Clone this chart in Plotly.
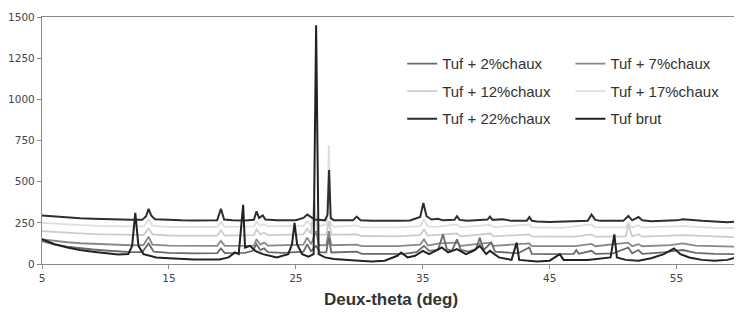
import plotly.graph_objects as go

# ---- data: (2-theta, intensity) ----
pts_22 = [(5,295),(5.5,292),(6,288),(7,284),(8,278),(9,275),(10,272),(11,270),(12,268),(12.9,268),(13.2,290),(13.4,335),(13.6,295),(13.9,272),(15,266),(16,265),(17,264),(18,264),(18.8,266),(19.1,335),(19.35,270),(20,265),(21,264),(21.7,268),(21.9,320),(22.1,280),(22.4,295),(22.6,270),(23.5,265),(25,266),(25.6,280),(25.9,300),(26.2,285),(26.5,270),(27.3,265),(27.5,300),(27.62,570),(27.75,280),(28,265),(29.5,265),(29.8,288),(30.1,266),(31,262),(32,260),(33,262),(34,264),(34.8,285),(35.05,370),(35.3,290),(35.7,270),(36.2,275),(36.6,265),(37.5,268),(37.7,290),(37.9,268),(38.5,262),(39.5,268),(40.1,270),(40.3,288),(40.5,268),(41.3,272),(42,262),(43.2,262),(43.4,285),(43.6,262),(44,258),(45,255),(46,258),(47,260),(48,262),(48.3,300),(48.6,268),(49,262),(50,260),(50.8,262),(51.2,292),(51.5,265),(52,285),(52.3,265),(53,260),(54,262),(55,265),(55.5,272),(56,268),(57,262),(58,258),(59,254),(60,258)]

pts_17 = [(5,250),(6,245),(7,240),(8,236),(9,233),(10,230),(11,228),(12,227),(13,228),(13.4,270),(13.7,232),(15,226),(17,225),(18.8,226),(19.1,255),(19.4,226),(21.7,228),(21.9,255),(22.2,232),(22.5,240),(22.8,228),(25.6,232),(25.9,260),(26.2,235),(26.6,300),(26.8,230),(27.45,240),(27.6,720),(27.75,240),(28,226),(29.8,235),(30.2,224),(33,222),(34.8,230),(35.1,270),(35.4,228),(36,225),(37.7,240),(38,224),(40.3,238),(40.6,224),(43.4,240),(43.6,222),(46,220),(48.3,240),(48.6,222),(51.0,222),(51.2,250),(51.5,222),(52,235),(52.3,222),(55,225),(55.5,230),(58,220),(60,218)]

pts_12 = [(5,200),(6,195),(7,190),(8,186),(9,182),(10,180),(11,178),(12,176),(13,176),(13.4,215),(13.7,180),(15,173),(18.8,172),(19.1,205),(19.4,172),(21.7,175),(21.9,210),(22.2,180),(22.5,190),(22.8,175),(25.6,180),(25.9,215),(26.2,182),(26.45,390),(26.7,178),(27.4,178),(27.6,260),(27.8,178),(29.8,180),(30.2,170),(33,168),(34.8,175),(35.1,210),(35.4,172),(37.7,185),(38,168),(40.3,185),(40.6,168),(43.4,180),(43.6,168),(47,166),(48.3,180),(48.6,166),(51.0,168),(51.2,240),(51.5,168),(52,180),(52.3,166),(55.5,175),(60,162)]

pts_7 = [(5,150),(6,140),(7,132),(8,126),(9,122),(10,118),(11,115),(12,114),(13,115),(13.4,165),(13.7,118),(15,112),(18.8,110),(19.1,140),(19.4,110),(21.7,112),(21.9,150),(22.2,118),(22.5,130),(22.8,112),(25.6,118),(25.9,160),(26.2,120),(26.6,200),(26.8,115),(27.4,114),(27.6,200),(27.8,114),(29.8,118),(30.2,108),(33,108),(34.8,118),(35.1,150),(35.4,112),(36.3,125),(37.7,130),(38,110),(40.3,130),(40.6,110),(43.4,125),(43.6,108),(47,108),(48.3,122),(48.6,108),(51.2,130),(51.5,108),(52,120),(52.3,108),(54.5,115),(55.5,125),(56.5,112),(60,105)]

pts_2 = [(5,140),(5.5,130),(6,118),(7,105),(8,95),(9,88),(10,82),(11,76),(12,72),(12.9,72),(13.4,125),(13.8,75),(15,68),(17,65),(18.8,66),(19.1,95),(19.4,66),(21,68),(21.6,80),(21.9,120),(22.2,85),(22.5,95),(22.8,72),(24,68),(25.6,75),(25.9,120),(26.2,78),(26.6,110),(26.9,70),(27.4,70),(27.6,160),(27.8,70),(29.8,75),(30.2,62),(32,60),(33.5,62),(34.5,72),(35.1,110),(35.5,80),(36.2,85),(36.6,180),(36.9,90),(37.3,80),(37.7,150),(38.0,85),(38.6,75),(39.2,90),(39.5,160),(39.8,85),(40.4,130),(40.7,75),(41.5,70),(42.5,65),(43.4,100),(43.6,62),(45,60),(46.9,62),(47.1,85),(47.3,62),(48.3,80),(48.6,62),(50,65),(51.2,100),(51.5,65),(52,85),(52.3,62),(54,70),(54.8,80),(55.5,85),(56.5,68),(58,62),(60,60)]

pts_brut = [(5,150),(6,120),(7,100),(8,85),(9,75),(10,65),(11,58),(11.8,60),(12.1,110),(12.35,310),(12.6,110),(13.0,60),(14,40),(15,35),(16,30),(17,28),(18,27),(19,28),(19.7,40),(20.2,70),(20.5,60),(20.85,360),(21.0,100),(21.4,110),(21.8,80),(22.4,60),(23.5,40),(24.4,60),(24.7,120),(24.9,250),(25.1,120),(25.5,60),(26.0,45),(26.4,60),(26.6,1450),(26.8,60),(27.3,40),(28,30),(30,20),(31,15),(32,20),(33,50),(33.3,70),(33.8,40),(34.4,50),(35.0,80),(35.5,60),(36.0,80),(36.5,100),(37,70),(37.7,90),(38.4,60),(39.0,80),(39.5,110),(40,60),(40.3,80),(41,40),(42,25),(42.4,130),(42.6,25),(44,15),(45,20),(45.8,60),(46.1,25),(48,25),(49.8,40),(50.1,180),(50.3,40),(51,25),(52,20),(53,35),(54,60),(54.8,95),(55.3,60),(56,40),(57,25),(58,20),(59,25),(59.7,40),(60,140)]

series_names = ["Tuf + 2%chaux", "Tuf + 7%chaux", "Tuf + 12%chaux",
                "Tuf + 17%chaux", "Tuf + 22%chaux", "Tuf brut"]
series_pts = [pts_2, pts_7, pts_12, pts_17, pts_22, pts_brut]
series_colors = ["#6a6a6a", "#888888", "#cccccc", "#dedede", "#2e2e2e", "#222222"]
series_widths = [1.8, 1.8, 1.8, 1.8, 2.0, 2.0]
series_legend = ["legend", "legend2", "legend", "legend2", "legend", "legend2"]

x_ticks = [5, 15, 25, 35, 45, 55]
y_ticks = [0, 250, 500, 750, 1000, 1250, 1500]

fig = go.Figure()
draw_order = [3, 2, 1, 0, 4, 5]
for i in draw_order:
    xs = [p[0] for p in series_pts[i]]
    ys = [p[1] for p in series_pts[i]]
    fig.add_trace(go.Scatter(
        x=xs, y=ys, mode="lines", name=series_names[i],
        line=dict(color=series_colors[i], width=series_widths[i]),
        legend=series_legend[i], legendgroup=series_names[i],
        legendrank=i,
    ))

legend_common = dict(
    bgcolor="rgba(0,0,0,0)", borderwidth=0,
    font=dict(family="Liberation Sans, Arial, sans-serif", size=15, color="#333333"),
    yanchor="top", xanchor="left", tracegroupgap=5,
    traceorder="grouped",
)

# page body adds an 8px offset, so the figure is sized to fit the window
fig.update_layout(
    width=734, height=304,
    margin=dict(l=34, r=2, t=9, b=48),
    paper_bgcolor="white", plot_bgcolor="white",
    showlegend=True,
    legend=dict(x=0.516, y=0.877, **legend_common),
    legend2=dict(x=0.757, y=0.877, **legend_common),
    xaxis=dict(
        range=[5, 60], tickvals=x_ticks, ticktext=[str(v) for v in x_ticks],
        showgrid=False, zeroline=False, automargin=False,
        showline=True, linecolor="#8a8a8a", linewidth=1.3, mirror=True,
        ticks="outside", ticklen=4, tickcolor="#8a8a8a",
        tickfont=dict(family="DejaVu Sans, Verdana, sans-serif", size=10.5, color="#444444"),
        title=dict(text="<b>Deux-theta (deg)</b>", standoff=10,
                   font=dict(family="Liberation Sans, Arial, sans-serif", size=17, color="#333333")),
    ),
    yaxis=dict(
        range=[0, 1500], tickvals=y_ticks, ticktext=[str(v) for v in y_ticks],
        showgrid=False, zeroline=False, automargin=False,
        showline=True, linecolor="#8a8a8a", linewidth=1.3, mirror=True,
        ticks="outside", ticklen=4, tickcolor="#8a8a8a",
        tickfont=dict(family="DejaVu Sans, Verdana, sans-serif", size=10.5, color="#444444"),
    ),
)

fig.write_html("out.html")
